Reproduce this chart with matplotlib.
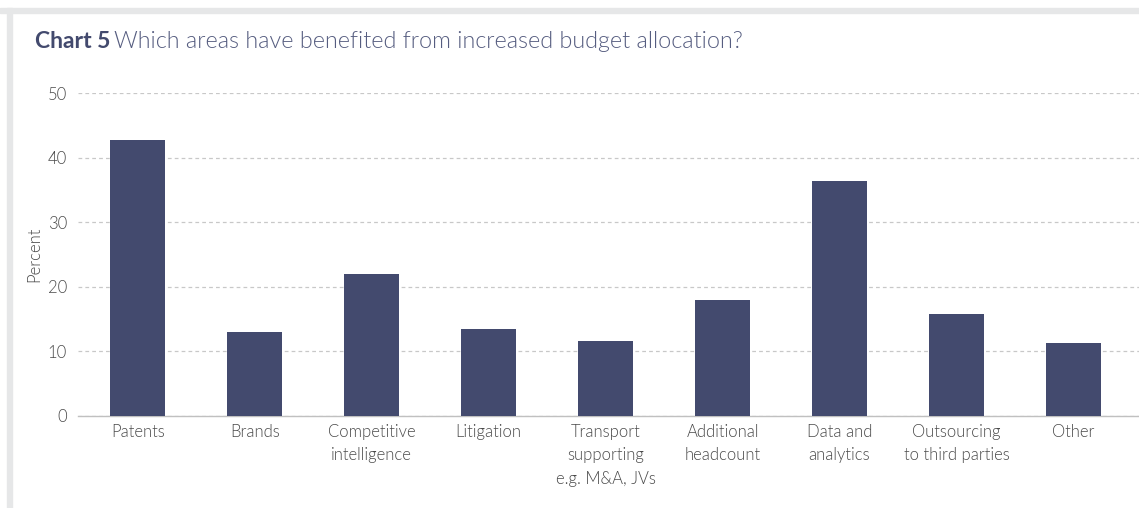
import matplotlib.pyplot as plt
from matplotlib.patches import Rectangle

# Datos del gráfico
categorias = ['Patents', 'Brands', 'Competitive\nintelligence', 'Litigation',
              'Transport\nsupporting\ne.g. M&A, JVs', 'Additional\nheadcount',
              'Data and\nanalytics', 'Outsourcing\nto third parties', 'Other']
porcentajes = [42.7, 13.0, 22.0, 13.5, 11.6, 18.0, 36.4, 15.8, 11.3]
ticks_y = [0, 10, 20, 30, 40, 50]

plt.rcParams['font.family'] = ['Lato', 'DejaVu Sans']
PESO = 300

fig = plt.figure(figsize=(11.39, 5.08), dpi=100)

# Marco gris superior e izquierdo
fig.patches.append(Rectangle((0, 1 - 13 / 508), 1, 5 / 508, transform=fig.transFigure,
                             color='#e6e7e8', zorder=0))
fig.patches.append(Rectangle((7 / 1139, 0), 5 / 1139, 1 - 8 / 508, transform=fig.transFigure,
                             color='#e6e7e8', zorder=0))

ax = fig.add_axes([78 / 1139, 1 - 416 / 508, 1 - 78 / 1139, (416 - 93) / 508])
x = range(len(categorias))
ax.bar(x, porcentajes, width=0.47, color='#434a6e', zorder=3)

ax.set_xlim(-0.51, 8.56)
ax.set_ylim(0, 50)
ax.set_yticks(ticks_y)
ax.set_xticks(list(x))
ax.set_xticklabels(categorias, fontsize=12, color='#4a4a4a', fontweight=PESO,
                   linespacing=1.55, va='top')
ax.tick_params(axis='y', length=0, pad=8, labelsize=12, labelcolor='#4a4a4a')
ax.tick_params(axis='x', length=0, pad=6)
for t in ax.get_yticklabels():
    t.set_fontweight(PESO)

ax.grid(axis='y', linestyle=(0, (3, 2.5)), color='#c8c8c8', linewidth=0.9, zorder=0)
for s in ['top', 'right', 'left']:
    ax.spines[s].set_visible(False)
ax.spines['bottom'].set_color('#c0c0c0')
ax.spines['bottom'].set_linewidth(1)

ax.set_ylabel('Percent', fontsize=12, color='#4a4a4a', fontweight=PESO, labelpad=4)

fig.text(35 / 1139, 1 - 42 / 508, 'Chart 5', fontsize=16.5, fontweight='bold',
         color='#434a6e', va='center')
fig.text(114 / 1139, 1 - 42 / 508, 'Which areas have benefited from increased budget allocation?',
         fontsize=16.8, fontweight=PESO, color='#565d80', va='center')

plt.savefig('out.png', dpi=100)
plt.close()
